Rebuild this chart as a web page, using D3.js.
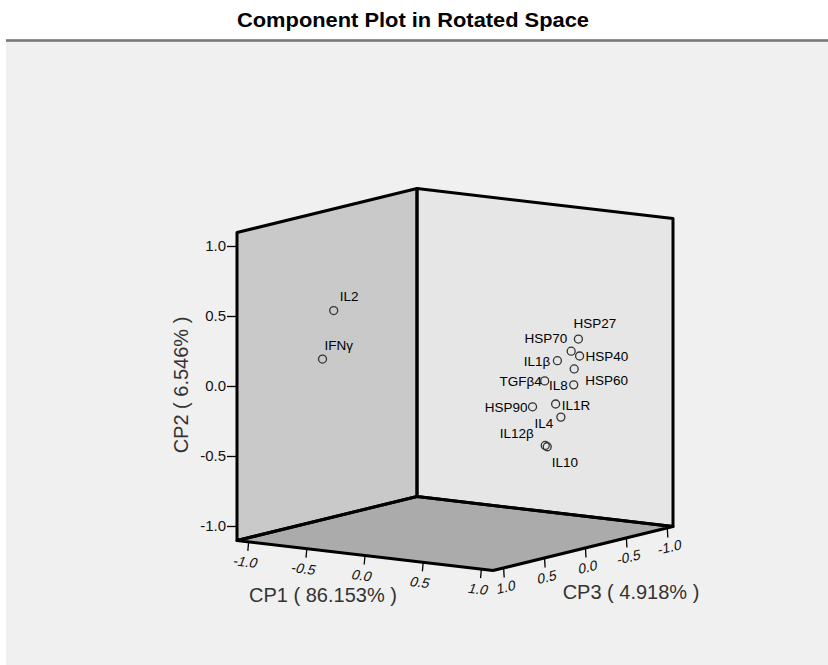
<!DOCTYPE html>
<html>
<head>
<meta charset="utf-8">
<script src="https://cdn.jsdelivr.net/npm/d3@7/dist/d3.min.js"></script>
<style>
  html, body { margin: 0; padding: 0; background: #ffffff; }
  svg { display: block; }
  text { font-family: "Liberation Sans", Arial, sans-serif; fill: #111; }
</style>
</head>
<body>
<svg id="chart" width="828" height="665"></svg>
<script>
// Rotated component loadings for each variable
const variables = ["HSP27", "HSP70", "HSP40", "IL1β", "HSP60", "TGFβ4", "IL8",
                   "HSP90", "IL1R", "IL4", "IL12β", "IL10", "IL2", "IFNγ"];
const cp1 = [0.92, 0.90, 0.93, 0.88, 0.94, 0.82, 0.95, 0.80, 0.90, 0.91, 0.86, 0.87, -0.48, -0.59];
const cp2 = [0.35, 0.27, 0.23, 0.22, 0.15, 0.08, 0.04, -0.09, -0.08, -0.18, -0.37, -0.38, 0.56, 0.20];
const cp3 = [-0.20, -0.14, -0.20, 0.00, -0.12, 0.07, -0.10, 0.19, 0.05, 0.00, 0.12, 0.11, 0.80, 0.78];

const tickValues = [-1.0, -0.5, 0.0, 0.5, 1.0];
const tickLabels = ["-1.0", "-0.5", "0.0", "0.5", "1.0"];
const axisTitles = { cp1: "CP1 ( 86.153% )", cp2: "CP2 ( 6.546% )", cp3: "CP3 ( 4.918% )" };
const chartTitle = "Component Plot in Rotated Space";

// Where each point label sits relative to its marker: [dx, dy, anchor]
const labelPlacement = {
  "HSP27": [-5, -11, "start"],
  "HSP70": [-4, -8, "end"],
  "HSP40": [6, 5, "start"],
  "IL1β":  [-7, 5, "end"],
  "HSP60": [11, 16.5, "start"],
  "TGFβ4": [-3, 5, "end"],
  "IL8":   [-6, 5, "end"],
  "HSP90": [-5, 5, "end"],
  "IL1R":  [6, 6, "start"],
  "IL4":   [-7.5, 10.5, "end"],
  "IL12β": [-11.5, -7, "end"],
  "IL10":  [4.5, 20, "start"],
  "IL2":   [6, -10, "start"],
  "IFNγ":  [2, -9, "start"]
};

const svg = d3.select("#chart");
const W = 828, H = 665;

// Oblique projection of the cube: CP1 runs toward the front-right,
// CP3 toward the back-right, CP2 straight up.
const L = 1.1;               // half-extent of the box in loading units
const cx = 455, cy = 379.5;  // screen position of the origin
const cp1X = d3.scaleLinear().domain([-1, 1]).range([-116.36, 116.36]);
const cp1Y = d3.scaleLinear().domain([-1, 1]).range([-13.64, 13.64]);
const cp2Y = d3.scaleLinear().domain([-1, 1]).range([140, -140]);
const cp3X = d3.scaleLinear().domain([-1, 1]).range([81.82, -81.82]);
const cp3Y = d3.scaleLinear().domain([-1, 1]).range([-20, 20]);
const project = (a, b, c) => [cx + cp1X(a) + cp3X(c), cy + cp1Y(a) + cp2Y(b) + cp3Y(c)];

// Page background and title bar
svg.append("rect").attr("x", 0).attr("y", 0).attr("width", W).attr("height", H).attr("fill", "#ffffff");
svg.append("rect").attr("x", 6).attr("y", 41).attr("width", W - 6).attr("height", H - 41).attr("fill", "#f0f0f0");
svg.append("rect").attr("x", 6).attr("y", 39.2).attr("width", W - 6).attr("height", 2.6).attr("fill", "#777777");

svg.append("text")
  .attr("x", 413).attr("y", 26.5)
  .attr("text-anchor", "middle")
  .style("font-size", "21px").style("font-weight", "bold").style("fill", "#000")
  .attr("textLength", 352).attr("lengthAdjust", "spacingAndGlyphs")
  .text(chartTitle);

// Box walls and floor
const line = d3.line();
const faces = [
  { fill: "#c9c9c9", pts: [[-L, -L, L], [-L, L, L], [-L, L, -L], [-L, -L, -L]] },   // CP1 = -L wall
  { fill: "#e6e6e6", pts: [[-L, -L, -L], [-L, L, -L], [L, L, -L], [L, -L, -L]] },   // CP3 = -L wall
  { fill: "#ababab", pts: [[-L, -L, L], [-L, -L, -L], [L, -L, -L], [L, -L, L]] }    // CP2 = -L floor
];
const box = svg.append("g");
box.selectAll("path.face").data(faces).join("path")
  .attr("class", "face")
  .attr("d", d => line(d.pts.map(p => project(...p))) + "Z")
  .attr("fill", d => d.fill);
box.selectAll("path.edge").data(faces).join("path")
  .attr("class", "edge")
  .attr("d", d => line(d.pts.map(p => project(...p))) + "Z")
  .attr("fill", "none")
  .attr("stroke", "#000")
  .attr("stroke-width", 3)
  .attr("stroke-linejoin", "round");

// CP2 axis on the front-left vertical edge
const axG = svg.append("g");
tickValues.forEach((v, i) => {
  const [x, y] = project(-L, v, L);
  axG.append("line").attr("x1", x - 10).attr("x2", x).attr("y1", y).attr("y2", y)
    .attr("stroke", "#000").attr("stroke-width", 1.3);
  axG.append("text").attr("x", x - 11).attr("y", y + 5)
    .attr("text-anchor", "end").style("font-size", "15px")
    .text(tickLabels[i]);
});

// CP1 axis along the front-left floor edge
const angle1 = Math.atan2(cp1Y(1) - cp1Y(0), cp1X(1) - cp1X(0)) * 180 / Math.PI;
tickValues.forEach((v, i) => {
  const [x, y] = project(v, -L, L);
  axG.append("line").attr("x1", x).attr("x2", x - 0.8).attr("y1", y).attr("y2", y + 9)
    .attr("stroke", "#000").attr("stroke-width", 1.3);
  axG.append("text")
    .attr("transform", `translate(${x - 3},${y + 20}) rotate(${angle1}) skewX(-14)`)
    .attr("text-anchor", "middle").attr("dy", "0.35em")
    .style("font-size", "14px")
    .text(tickLabels[i]);
});

// CP3 axis along the front-right floor edge
const angle3 = Math.atan2(cp3Y(1) - cp3Y(0), cp3X(1) - cp3X(0)) * 180 / Math.PI + 180;
tickValues.forEach((v, i) => {
  const [x, y] = project(L, -L, v);
  axG.append("line").attr("x1", x + 2.5).attr("x2", x + 3).attr("y1", y).attr("y2", y + 9)
    .attr("stroke", "#000").attr("stroke-width", 1.3);
  axG.append("text")
    .attr("transform", `translate(${x + 5},${y + 18.5}) rotate(${angle3}) skewX(-14)`)
    .attr("text-anchor", "middle").attr("dy", "0.35em")
    .style("font-size", "14px")
    .text(tickLabels[i]);
});

// Axis titles
svg.append("text").attr("x", 323).attr("y", 602)
  .attr("text-anchor", "middle").style("font-size", "20px").style("fill", "#333")
  .text(axisTitles.cp1);
svg.append("text").attr("x", 631).attr("y", 599)
  .attr("text-anchor", "middle").style("font-size", "20px").style("fill", "#333")
  .text(axisTitles.cp3);
svg.append("text")
  .attr("transform", "translate(188,385) rotate(-90)")
  .attr("text-anchor", "middle").style("font-size", "20px").style("fill", "#333")
  .text(axisTitles.cp2);

// Loading points and their labels
const pts = variables.map((name, i) => {
  const [x, y] = project(cp1[i], cp2[i], cp3[i]);
  return { name, x, y };
});
const pg = svg.append("g");
pg.selectAll("circle").data(pts).join("circle")
  .attr("cx", d => d.x).attr("cy", d => d.y).attr("r", 4)
  .attr("fill", "none").attr("stroke", "#333").attr("stroke-width", 1.3);
pg.selectAll("text").data(pts).join("text")
  .attr("x", d => d.x + labelPlacement[d.name][0])
  .attr("y", d => d.y + labelPlacement[d.name][1])
  .attr("text-anchor", d => labelPlacement[d.name][2])
  .style("font-size", "13.5px").style("fill", "#000")
  .text(d => d.name);
</script>
</body>
</html>
